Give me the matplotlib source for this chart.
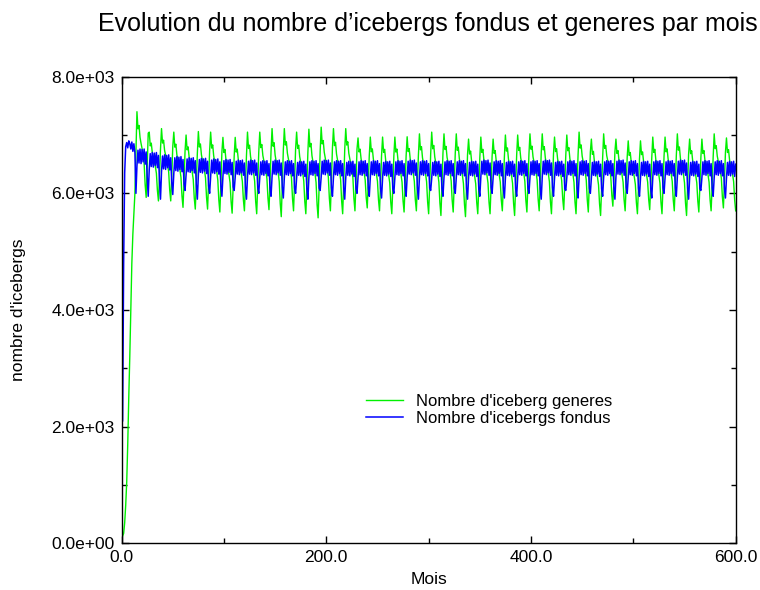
import numpy as np
import matplotlib
matplotlib.use("Agg")
import matplotlib.pyplot as plt
from matplotlib.ticker import MultipleLocator, FormatStrFormatter

plt.rcParams['font.family'] = ['Liberation Sans', 'DejaVu Sans']

# premiers mois de la simulation (mois 1 a 14, avant le premier pic annuel)
generes_debut = [120, 170, 350, 650, 1050, 1700, 2500, 3200, 4000,
                 4800, 5300, 5650, 6000, 6700]
fondus_debut = [2100, 4800, 6350, 6800, 6870, 6780, 6900, 6850, 6760,
                6880, 6720, 6850, 6700, 6000]

# profil d'une annee, mois 0 = pic des icebergs generes
forme_generes = [1.0, 0.80, 0.84, 0.70, 0.63, 0.57, 0.50, 0.40, 0.15, 0.0, 0.35, 0.75]
ecart_fondus = [-150, 120, -100, 140, -110, 130, -80, 140, -120, 90, -330, 0]

# valeurs annuelles (49 cycles)
pics_generes = [7400, 7050, 7110, 7050, 7000, 7060, 7050, 6960, 6960, 7050,
                7050, 7110, 7110, 7050, 7100, 7135, 7110, 7110, 6950, 6965,
                6965, 6965, 6970, 7020, 7050, 7020, 7020, 6930, 6965, 6930,
                7000, 7000, 7020, 7020, 6965, 7000, 7050, 6930, 7020, 6930,
                6900, 6900, 6965, 6965, 7020, 6930, 6930, 7020, 6950]
creux_generes = [5930, 5870, 5870, 5760, 5730, 5730, 5680, 5660, 5700, 5650,
                 5720, 5600, 5700, 5650, 5580, 5700, 5650, 5700, 5750, 5700,
                 5650, 5680, 5700, 5650, 5620, 5680, 5600, 5650, 5650, 5700,
                 5620, 5680, 5700, 5650, 5720, 5650, 5680, 5620, 5780, 5700,
                 5650, 5720, 5650, 5700, 5620, 5680, 5700, 5750, 5700]
niveau_fondus = [6620, 6560, 6520, 6490, 6470, 6460, 6450, 6440, 6430, 6430,
                 6420, 6430, 6420, 6410, 6420, 6430, 6420, 6410, 6420, 6420,
                 6410, 6420, 6430, 6420, 6410, 6420, 6420, 6410, 6430, 6420,
                 6410, 6420, 6420, 6430, 6410, 6420, 6420, 6410, 6420, 6430,
                 6420, 6410, 6420, 6420, 6430, 6410, 6420, 6420, 6410]
creux_fondus = [5950, 5900, 5980, 6050, 5900, 6000, 5950, 6050, 5900, 6000,
                5950, 5920, 6000, 5900, 6050, 5950, 5900, 6000, 5950, 5920,
                6000, 5950, 5900, 6050, 5950, 6000, 5900, 5950, 6000, 5920,
                5950, 6000, 5900, 5950, 6050, 5920, 6000, 5950, 5900, 6000,
                5950, 5920, 6000, 5950, 5900, 6050, 5950, 5920, 6000]

n_mois = 600

# assemblage des series mensuelles
pics = np.array(pics_generes, dtype=float)
creux = np.array(creux_generes, dtype=float)
cycles_g = creux[:, None] + np.array(forme_generes)[None, :] * (pics - creux)[:, None]
generes = np.concatenate([generes_debut, cycles_g.ravel()])[:n_mois]

cycles_f = np.array(niveau_fondus, dtype=float)[:, None] + np.array(ecart_fondus)[None, :]
cycles_f[:, 11] = creux_fondus
fondus = np.concatenate([fondus_debut, cycles_f.ravel()])[:n_mois]

mois = np.arange(1, n_mois + 1)

fig = plt.figure(figsize=(7.6, 5.9), dpi=100)
ax = fig.add_axes([0.160, 0.0792, 0.808, 0.7908])

ax.plot(mois, generes, color='#00f000', lw=1.0, label="Nombre d'iceberg generes")
ax.plot(mois, fondus, color='#0000ff', lw=1.1, label="Nombre d'icebergs fondus")

ax.set_xlim(0, 600)
ax.set_ylim(0, 8000)
ax.xaxis.set_major_locator(MultipleLocator(200))
ax.xaxis.set_minor_locator(MultipleLocator(100))
ax.yaxis.set_major_locator(MultipleLocator(2000))
ax.yaxis.set_minor_locator(MultipleLocator(1000))
ax.xaxis.set_major_formatter(FormatStrFormatter('%.1f'))
ax.yaxis.set_major_formatter(FormatStrFormatter('%.1e'))

ax.tick_params(which='both', direction='in', top=True, right=True, width=1.0)
ax.tick_params(which='major', length=5, labelsize=12.5, pad=5)
ax.tick_params(which='minor', length=3.5)
for s in ax.spines.values():
    s.set_linewidth(1.0)

ax.set_xlabel('Mois', fontsize=12.5)
ax.set_ylabel("nombre d'icebergs", fontsize=12.5)
ax.xaxis.set_label_coords(0.5, -0.061)
ax.yaxis.set_label_coords(-0.155, 0.5)

fig.text(0.5635, 0.960, "Evolution du nombre d’icebergs fondus et generes par mois",
         ha='center', va='center', fontsize=18)

ax.legend(loc='upper left', bbox_to_anchor=(0.398, 0.321), frameon=False,
          fontsize=12, handlelength=2.2, handletextpad=0.8, labelspacing=0.15,
          borderpad=0, borderaxespad=0)

fig.savefig('out.png', dpi=100)
